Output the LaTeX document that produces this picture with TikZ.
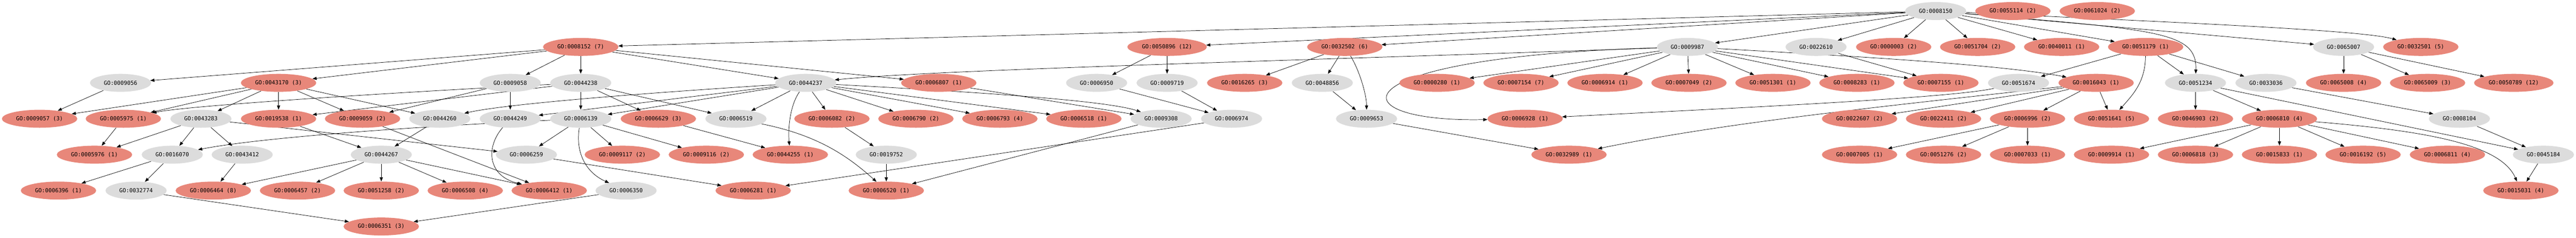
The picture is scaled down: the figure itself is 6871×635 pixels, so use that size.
\documentclass[tikz,border=0pt]{standalone}
\usepackage{fontspec}
\newfontfamily\gofont{DejaVu Sans Mono}
\usetikzlibrary{shapes.geometric,arrows.meta}
\pgfdeclarelayer{paper}
\pgfdeclarelayer{edges}
\pgfsetlayers{paper,edges,main}
\definecolor{gored}{HTML}{E8877A}
\definecolor{gogray}{HTML}{DCDCDC}
\tikzset{
  gonode/.style={ellipse, inner sep=0pt, minimum height=24pt, font=\gofont\fontsize{7.4pt}{8pt}\selectfont, text=black},
  gn/.style={gonode, fill=gogray, minimum width=81.5pt},
  rn/.style={gonode, fill=gored, minimum width=100.5pt},
  rw/.style={gonode, fill=gored, minimum width=106pt},
  arr/.style={draw=black, line width=0.5pt, -{Triangle[length=5.5pt,width=4.2pt]}}
}
\begin{document}
\begin{tikzpicture}[x=0.5pt,y=-0.5pt]
\begin{pgfonlayer}{paper}
\fill[white] (0,0) rectangle (6871,635);
\end{pgfonlayer}
\useasboundingbox (0,0) rectangle (6871,635);
% row 1
\node[gn] (a8150) at (5163,29.5) {GO:0008150};
\node[rn] (a55114) at (5369,29.5) {GO:0055114 (2)};
\node[rn] (a61024) at (5594,29.5) {GO:0061024 (2)};
% row 2
\node[rn] (a8152) at (1549,125.5) {GO:0008152 (7)};
\node[rw] (a50896) at (3113,125.5) {GO:0050896 (12)};
\node[rn] (a32502) at (3587,125.5) {GO:0032502 (6)};
\node[gn] (a9987) at (4501,125.5) {GO:0009987};
\node[gn] (a22610) at (4844,125.5) {GO:0022610};
\node[rn] (a3) at (5051,125.5) {GO:0000003 (2)};
\node[rn] (a51704) at (5275,125.5) {GO:0051704 (2)};
\node[rn] (a40011) at (5499,125.5) {GO:0040011 (1)};
\node[rn] (a51179) at (5723,125.5) {GO:0051179 (1)};
\node[gn] (a65007) at (6251,125.5) {GO:0065007};
\node[rn] (a32501) at (6457,125.5) {GO:0032501 (5)};
% row 3
\node[gn] (a9056) at (321.5,221.5) {GO:0009056};
\node[rn] (a43170) at (743,221.5) {GO:0043170 (3)};
\node[gn] (a9058) at (1361,221.5) {GO:0009058};
\node[gn] (a44238) at (1549,221.5) {GO:0044238};
\node[gn] (a44237) at (2149,221.5) {GO:0044237};
\node[rn] (a6807) at (2504,221.5) {GO:0006807 (1)};
\node[gn] (a6950) at (2925,221.5) {GO:0006950};
\node[gn] (a9719) at (3113,221.5) {GO:0009719};
\node[rn] (a16265) at (3320,221.5) {GO:0016265 (3)};
\node[gn] (a48856) at (3527,221.5) {GO:0048856};
\node[rn] (a280) at (3833,221.5) {GO:0000280 (1)};
\node[rn] (a7154) at (4057,221.5) {GO:0007154 (7)};
\node[rn] (a6914) at (4281,221.5) {GO:0006914 (1)};
\node[rn] (a7049) at (4505,221.5) {GO:0007049 (2)};
\node[rn] (a51301) at (4729,221.5) {GO:0051301 (1)};
\node[rn] (a8283) at (4953,221.5) {GO:0008283 (1)};
\node[rn] (a7155) at (5177,221.5) {GO:0007155 (1)};
\node[gn] (a51674) at (5384,221.5) {GO:0051674};
\node[rn] (a16043) at (5591,221.5) {GO:0016043 (1)};
\node[gn] (a51234) at (5856,221.5) {GO:0051234};
\node[gn] (a33036) at (6044,221.5) {GO:0033036};
\node[rn] (a65008) at (6251,221.5) {GO:0065008 (4)};
\node[rn] (a65009) at (6475,221.5) {GO:0065009 (3)};
\node[rw] (a50789) at (6705,221.5) {GO:0050789 (12)};
% row 4
\node[rn] (a9057) at (105.6,317.5) {GO:0009057 (3)};
\node[rn] (a5975) at (329,317.5) {GO:0005975 (1)};
\node[gn] (a43283) at (536,317.5) {GO:0043283};
\node[rn] (a19538) at (743,317.5) {GO:0019538 (1)};
\node[rn] (a9059) at (967,317.5) {GO:0009059 (2)};
\node[gn] (a44260) at (1173,317.5) {GO:0044260};
\node[gn] (a44249) at (1361,317.5) {GO:0044249};
\node[gn] (a6139) at (1549,317.5) {GO:0006139};
\node[rn] (a6629) at (1756,317.5) {GO:0006629 (3)};
\node[gn] (a6519) at (1963,317.5) {GO:0006519};
\node[rn] (a6082) at (2219,317.5) {GO:0006082 (2)};
\node[rn] (a6790) at (2443,317.5) {GO:0006790 (2)};
\node[rn] (a6793) at (2667,317.5) {GO:0006793 (4)};
\node[rn] (a6518) at (2891,317.5) {GO:0006518 (1)};
\node[gn] (a9308) at (3097,317.5) {GO:0009308};
\node[gn] (a6974) at (3285,317.5) {GO:0006974};
\node[gn] (a9653) at (3645,317.5) {GO:0009653};
\node[rn] (a6928) at (4068,317.5) {GO:0006928 (1)};
\node[rn] (a22607) at (4960,317.5) {GO:0022607 (2)};
\node[rn] (a22411) at (5184,317.5) {GO:0022411 (2)};
\node[rn] (a6996) at (5408,317.5) {GO:0006996 (2)};
\node[rn] (a51641) at (5632,317.5) {GO:0051641 (5)};
\node[rn] (a46903) at (5856,317.5) {GO:0046903 (2)};
\node[rn] (a6810) at (6080,317.5) {GO:0006810 (4)};
\node[gn] (a8104) at (6560,317.5) {GO:0008104};
% row 5
\node[rn] (a5976) at (252,413.5) {GO:0005976 (1)};
\node[gn] (a16070) at (459.5,413.5) {GO:0016070};
\node[gn] (a43412) at (646,413.5) {GO:0043412};
\node[gn] (a44267) at (1017,413.5) {GO:0044267};
\node[gn] (a6259) at (1404,413.5) {GO:0006259};
\node[rn] (a9117) at (1660,413.5) {GO:0009117 (2)};
\node[rn] (a9116) at (1884,413.5) {GO:0009116 (2)};
\node[rn] (a44255) at (2108,413.5) {GO:0044255 (1)};
\node[gn] (a19752) at (2364,413.5) {GO:0019752};
\node[rn] (a32989) at (4185,413.5) {GO:0032989 (1)};
\node[rn] (a7005) at (4960,413.5) {GO:0007005 (1)};
\node[rn] (a51276) at (5184,413.5) {GO:0051276 (2)};
\node[rn] (a7033) at (5408,413.5) {GO:0007033 (1)};
\node[rn] (a9914) at (5632,413.5) {GO:0009914 (1)};
\node[rn] (a6818) at (5856,413.5) {GO:0006818 (3)};
\node[rn] (a15833) at (6080,413.5) {GO:0015833 (1)};
\node[rn] (a16192) at (6303,413.5) {GO:0016192 (5)};
\node[rn] (a6811) at (6528,413.5) {GO:0006811 (4)};
\node[gn] (a45184) at (6784,413.5) {GO:0045184};
% row 6
\node[rn] (a6396) at (156,509.5) {GO:0006396 (1)};
\node[gn] (a32774) at (363,509.5) {GO:0032774};
\node[rn] (a6464) at (569,509.5) {GO:0006464 (8)};
\node[rn] (a6457) at (793.5,509.5) {GO:0006457 (2)};
\node[rn] (a51258) at (1017,509.5) {GO:0051258 (2)};
\node[rn] (a6508) at (1241,509.5) {GO:0006508 (4)};
\node[rn] (a6412) at (1465,509.5) {GO:0006412 (1)};
\node[gn] (a6350) at (1670,509.5) {GO:0006350};
\node[rn] (a6281) at (2009,509.5) {GO:0006281 (1)};
\node[rn] (a6520) at (2364,509.5) {GO:0006520 (1)};
\node[rn] (a15031) at (6724,509.5) {GO:0015031 (4)};
% row 7
\node[rn] (a6351) at (1017,605.5) {GO:0006351 (3)};

\begin{pgfonlayer}{edges}
\foreach \s/\t in {a8150/a8152, a8150/a50896, a8150/a32502, a8150/a9987, a8150/a22610, a8150/a3, a8150/a51704, a8150/a40011, a8150/a51179, a8150/a65007,
  a8152/a9056, a8152/a43170, a8152/a9058, a8152/a44238, a8152/a44237, a8152/a6807,
  a9987/a280, a9987/a7154, a9987/a6914, a9987/a7049, a9987/a51301, a9987/a8283, a9987/a7155,
  a50896/a6950, a50896/a9719, a32502/a16265, a32502/a48856, a22610/a7155,
  a51179/a51674, a51179/a51234, a51179/a33036,
  a65007/a65008, a65007/a65009, a65007/a50789,
  a9056/a9057, a43170/a9057, a43170/a5975, a43170/a43283, a43170/a19538, a43170/a9059, a43170/a44260,
  a9058/a9059, a9058/a44249,
  a44238/a19538, a44238/a6139, a44238/a6629, a44238/a6519,
  a44237/a44249, a44237/a6139, a44237/a6519, a44237/a6082, a44237/a6790, a44237/a6793, a44237/a6518,
  a6807/a9308, a6950/a6974, a9719/a6974, a48856/a9653,
  a16043/a22607, a16043/a22411, a16043/a6996, a16043/a51641,
  a51234/a46903, a51234/a6810, a51234/a45184, a33036/a8104,
  a5975/a5976, a43283/a5976, a43283/a16070, a43283/a43412, a43283/a6259,
  a19538/a44267, a44260/a44267,
  a6139/a6259, a6139/a9117, a6139/a9116,
  a9059/a6412, a6629/a44255, a6082/a19752, a9308/a6520, a6974/a6281, a9653/a32989,
  a6996/a7005, a6996/a51276, a6996/a7033,
  a6810/a9914, a6810/a6818, a6810/a15833, a6810/a16192, a6810/a6811,
  a8104/a45184,
  a16070/a6396, a16070/a32774, a43412/a6464,
  a44267/a6464, a44267/a6457, a44267/a51258, a44267/a6508, a44267/a6412,
  a6259/a6281, a19752/a6520, a45184/a15031,
  a32774/a6351, a6350/a6351}
  \draw[arr] (\s) -- (\t);
% curved connectors
\draw[arr] (a8150) .. controls (5800,60) and (6300,80) .. (a32501);
\draw[arr] (a8150) .. controls (5760,80) and (5860,85) .. (a51234);
\draw[arr] (a9987) .. controls (3400,164) and (2500,186) .. (a44237);
\draw[arr] (a9987) .. controls (3550,153) and (3560,328) .. (a6928);
\draw[arr] (a9987) .. controls (5000,153) and (5350,175) .. (a16043);
\draw[arr] (a32502) .. controls (3625,186) and (3645,252) .. (a9653);
\draw[arr] (a51179) .. controls (5722,219) and (5690,252) .. (a51641);
\draw[arr] (a44238) .. controls (1000,250) and (500,283) .. (a5975);
\draw[arr] (a44237) .. controls (1700,250) and (1350,278) .. (a44260);
\draw[arr] (a44237) .. controls (2105,285) and (2102,350) .. (a44255);
\draw[arr] (a44237) .. controls (2600,246) and (2950,268) .. (a9308);
\draw[arr] (a51674) .. controls (5200,263) and (4600,290) .. (a6928);
\draw[arr] (a16043) .. controls (5000,287) and (4600,328) .. (a32989);
\draw[arr] (a6139) .. controls (1100,339) and (700,367) .. (a16070);
\draw[arr] (a6139) .. controls (1535,405) and (1560,460) .. (a6350);
\draw[arr] (a44249) .. controls (1295,394) and (1300,471) .. (a6412);
\draw[arr] (a6519) .. controls (2180,361) and (2260,416) .. (a6520);
\draw[arr] (a6810) .. controls (6470,350) and (6670,385) .. (a15031);
\end{pgfonlayer}
\end{tikzpicture}
\end{document}
